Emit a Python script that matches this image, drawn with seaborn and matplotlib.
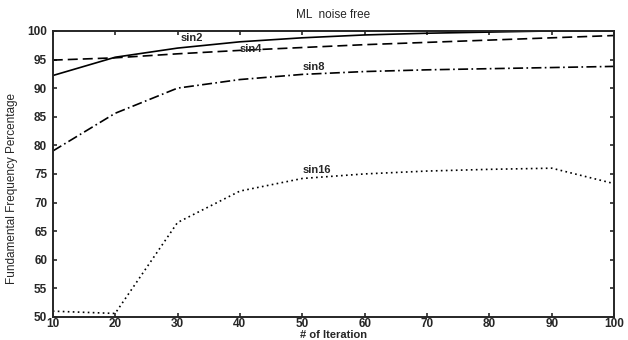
import numpy as np
import pandas as pd
import matplotlib
matplotlib.use("Agg")
import matplotlib.pyplot as plt
import seaborn as sns

# ---------------- DATA ----------------

iterations = [10, 20, 30, 40, 50, 60, 70, 80, 90, 100]
sin2 = [92.2, 95.4, 97.0, 98.1, 98.8, 99.3, 99.6, 99.8, 100.0, 100.0]
sin4 = [94.9, 95.3, 96.0, 96.6, 97.1, 97.6, 98.0, 98.4, 98.8, 99.2]
sin8 = [79.0, 85.6, 90.0, 91.5, 92.4, 92.9, 93.2, 93.4, 93.6, 93.8]
sin16 = [51.0, 50.6, 66.5, 72.0, 74.2, 75.0, 75.5, 75.8, 76.0, 73.3]

series_names = ["sin2", "sin4", "sin8", "sin16"]
series_values = [sin2, sin4, sin8, sin16]

x_ticks = [10, 20, 30, 40, 50, 60, 70, 80, 90, 100]
y_ticks = [50, 55, 60, 65, 70, 75, 80, 85, 90, 95, 100]

# ---------------- STYLE ----------------

sns.set_style("ticks")
plt.rcParams["font.family"] = ["Liberation Sans", "DejaVu Sans"]
plt.rcParams["xtick.direction"] = "in"
plt.rcParams["ytick.direction"] = "in"

fig = plt.figure(figsize=(6.28, 3.4), dpi=100)
ax = fig.add_axes([0.084, 0.068, 0.894, 0.841])

styles = {
    "sin2": (0, ()),
    "sin4": (0, (6, 3)),
    "sin8": (0, (6, 2, 1, 2)),
    "sin16": (0, (1, 2)),
}

for name, vals in zip(series_names, series_values):
    df = pd.DataFrame({"iter": iterations, "pct": vals})
    sns.lineplot(data=df, x="iter", y="pct", ax=ax, color="black",
                 linewidth=1.2, linestyle=styles[name])

# ---------------- LABELS ----------------

ax.text(30.5, 98.2, "sin2", fontsize=8, fontweight="bold")
ax.text(40.0, 96.4, "sin4", fontsize=8, fontweight="bold")
ax.text(50.0, 93.1, "sin8", fontsize=8, fontweight="bold")
ax.text(50.0, 75.1, "sin16", fontsize=8, fontweight="bold")

ax.set_title("ML  noise free", fontsize=8.5, pad=9)
ax.set_xlabel("# of Iteration", fontsize=8, fontweight="bold", labelpad=0)
ax.set_ylabel("Fundamental Frequency Percentage", fontsize=8.5, labelpad=4)
ax.yaxis.set_label_coords(-0.062, 0.45)

ax.set_xlim(10, 100)
ax.set_ylim(50, 100)
ax.set_xticks(x_ticks)
ax.set_yticks(y_ticks)
ax.tick_params(labelsize=8.5, length=3, width=1.2, top=True, right=True)
ax.tick_params(axis="y", pad=4)
ax.tick_params(axis="x", pad=1)
for lab in ax.get_xticklabels() + ax.get_yticklabels():
    lab.set_fontweight("bold")
for sp in ax.spines.values():
    sp.set_linewidth(1.4)
    sp.set_visible(True)

fig.savefig("out.png", dpi=100)
